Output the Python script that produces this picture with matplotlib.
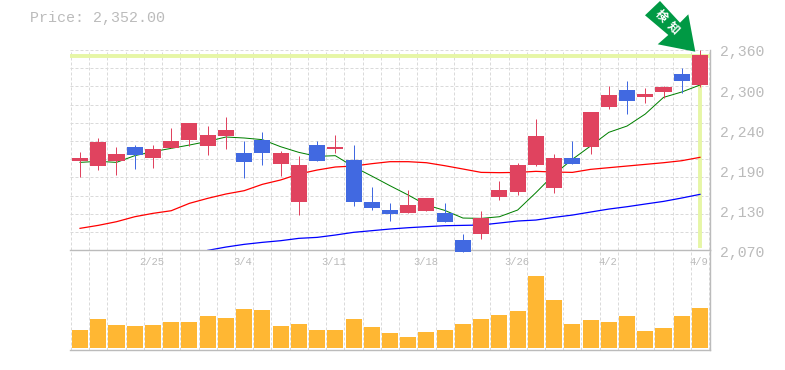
import matplotlib
matplotlib.use("Agg")
import numpy as np
import matplotlib.pyplot as plt
from matplotlib.patches import Polygon, Rectangle
from matplotlib.transforms import Affine2D

W, H = 785, 370

# daily candles
opens = [2199.3, 2192.0, 2199.3, 2219.5, 2203.6, 2218.1, 2229.7, 2221.0, 2235.5, 2210.8, 2229.7, 2194.9,
         2139.9, 2222.4, 2216.6, 2200.7, 2139.9, 2128.3, 2124.0, 2126.9, 2124.0, 2084.9, 2093.5, 2147.1,
         2154.4, 2193.5, 2160.2, 2203.6, 2219.5, 2277.5, 2302.1, 2291.9, 2299.2, 2325.2, 2309.3]
closes = [2203.6, 2226.8, 2209.4, 2208.0, 2216.6, 2228.2, 2254.3, 2236.9, 2244.2, 2197.8, 2210.8, 2210.8,
          2193.5, 2199.3, 2219.5, 2139.9, 2131.2, 2122.5, 2135.5, 2145.7, 2110.9, 2067.5, 2116.7, 2157.3,
          2193.5, 2235.5, 2203.6, 2194.9, 2270.2, 2294.8, 2286.1, 2296.3, 2306.4, 2315.1, 2352.8]
highs = [2212.3, 2232.6, 2219.5, 2222.4, 2222.4, 2247.0, 2254.3, 2250.0, 2263.0, 2228.2, 2241.3, 2213.7,
         2206.5, 2228.2, 2236.9, 2222.4, 2161.6, 2138.4, 2157.3, 2145.7, 2138.4, 2093.5, 2126.9, 2170.3,
         2196.4, 2260.1, 2209.4, 2228.2, 2270.2, 2307.9, 2315.1, 2305.0, 2307.9, 2334.0, 2360.0]
lows = [2176.1, 2186.2, 2179.0, 2187.7, 2189.1, 2218.1, 2221.0, 2208.0, 2216.6, 2174.6, 2193.5, 2177.5,
        2121.1, 2199.3, 2210.8, 2134.1, 2128.3, 2112.4, 2124.0, 2126.9, 2110.9, 2067.5, 2086.3, 2142.8,
        2150.0, 2192.0, 2153.0, 2194.9, 2209.4, 2274.6, 2267.3, 2283.2, 2290.5, 2297.7, 2306.4]

ma_short = [2197.3, 2198.8, 2197.3, 2207.0, 2212.8, 2217.6, 2222.4, 2227.7, 2234.0, 2232.6, 2230.2, 2220.0,
            2211.8, 2206.0, 2207.0, 2191.0, 2177.5, 2163.5, 2150.0, 2135.5, 2127.8, 2116.7, 2116.2, 2118.6,
            2128.3, 2153.4, 2180.0, 2201.7, 2221.0, 2240.8, 2249.9, 2267.3, 2291.4, 2299.2, 2309.3]
ma_mid = [2101.8, 2106.1, 2111.4, 2118.6, 2123.5, 2127.3, 2138.0, 2145.2, 2151.5, 2156.3, 2165.5, 2171.8,
          2180.4, 2186.2, 2190.6, 2192.0, 2195.4, 2198.3, 2198.3, 2196.8, 2192.5, 2187.7, 2182.8, 2182.4,
          2182.8, 2184.3, 2183.3, 2182.8, 2187.2, 2189.6, 2192.0, 2194.4, 2196.8, 2199.7, 2204.6]
ma_long = [2069.9, 2074.7, 2078.6, 2081.5, 2083.9, 2087.3, 2088.7, 2092.1, 2096.0, 2098.4, 2100.8, 2102.7,
           2104.2, 2105.6, 2106.1, 2106.6, 2109.5, 2112.4, 2113.8, 2117.7, 2121.0, 2125.4, 2129.7, 2133.1,
           2137.0, 2140.8, 2145.7, 2151.0]
ma_long_start = 7

volume = [54, 84, 69, 66, 69, 78, 78, 93, 87, 114, 111, 66, 72, 54, 54, 84, 63, 45,
          33, 48, 54, 72, 84, 96, 108, 213, 141, 72, 81, 78, 93, 51, 60, 93, 117]

price_ticks = [2360, 2302, 2244, 2186, 2128, 2070]
price_labels = ["2,360", "2,300", "2,240", "2,190", "2,130", "2,070"]
date_idx = [4, 9, 14, 19, 24, 29, 34]
date_labels = ["2/25", "3/4", "3/11", "3/18", "3/26", "4/2", "4/9"]
last_price = 2352

UP = "#e0435f"
DOWN = "#4169e1"
GRID = "#dadada"
FRAME = "#bbbbbb"
TEXT = "#bbbbbb"
HILITE = "#e6f6a6"
MONO = "Liberation Mono"
PX = 0.72  # one pixel in points


def box(top, bottom):
    return [70 / W, 1 - bottom / H, 640 / W, (bottom - top) / H]


fig = plt.figure(figsize=(W / 100, H / 100), dpi=100)
ax = fig.add_axes(box(50, 250.3))
vol = fig.add_axes(box(250.3, 350), sharex=ax)
# price panel on top so the last candles can run past its floor
ax.set_zorder(2)
vol.set_zorder(1)
ax.patch.set_visible(False)
vol.patch.set_visible(False)

x = np.arange(len(closes))
ax.set_xlim(-0.55, 34.55)
ax.set_ylim(2070, 2360)
vol.set_ylim(-6, 288)

grid_x = np.arange(-0.5, 35, 1)
for a in (ax, vol):
    a.vlines(grid_x, 0, 1, transform=a.get_xaxis_transform(), color=GRID, lw=PX,
             linestyles=(0, (3, 2)), zorder=0, clip_on=False)
    a.tick_params(left=False, bottom=False, labelleft=False, labelbottom=False)
    for s in ("top", "left"):
        a.spines[s].set_visible(False)
    for s in ("right", "bottom"):
        a.spines[s].set_color(FRAME)
        a.spines[s].set_linewidth(1.0)
ax.hlines(np.linspace(2070, 2360, 12)[1:], 0, 1, transform=ax.get_yaxis_transform(), color=GRID, lw=PX,
          linestyles=(0, (3, 2)), zorder=0)

# current price markers
ax.axhline(last_price, color=HILITE, lw=2.8, zorder=1)
ax.vlines(x[-1], 2073, last_price, color=HILITE, lw=2.8, zorder=1)

ax.plot(x, ma_short, color="#008000", lw=PX, zorder=2)
ax.plot(x, ma_mid, color="#ff0000", lw=0.9, zorder=2)
ax.plot(x[ma_long_start:], ma_long, color="#0000ff", lw=0.9, zorder=2)

for i in x:
    c = UP if closes[i] >= opens[i] else DOWN
    ax.vlines(i, lows[i], highs[i], color=c, lw=PX, zorder=3, clip_on=False)
    lo, hi = sorted((opens[i], closes[i]))
    ax.add_patch(Rectangle((i - 0.44, lo), 0.88, hi - lo, color=c, lw=0, zorder=4, clip_on=False))

vol.bar(x, volume, width=0.88, color="#ffb733", zorder=2)

for v, s in zip(price_ticks, price_labels):
    ax.annotate(s, xy=(1, v), xycoords=("axes fraction", "data"), xytext=(32, -2.5), textcoords="offset pixels",
                ha="center", va="center", family=MONO, fontsize=10.7, color=TEXT)
for i, s in zip(date_idx, date_labels):
    vol.annotate(s, xy=(i, 1), xycoords=("data", "axes fraction"), xytext=(-1, -12), textcoords="offset pixels",
                 ha="center", va="center", family=MONO, fontsize=7.6, color=TEXT)

fig.text(30 / W, 1 - 18 / H, "Price: 2,352.00", family=MONO, fontsize=10.8, color=TEXT, ha="left", va="center")

# arrow badge, pixel coordinates with y down
px = Affine2D().scale(1 / W, -1 / H).translate(0, 1) + fig.transFigure
arrow = [(660, 1), (645, 15.3), (668.3, 35), (657.7, 44.3), (695.3, 51.7), (688.3, 14.3), (680, 22.7)]
fig.add_artist(Polygon(arrow, closed=True, transform=px, facecolor="#009944", edgecolor="none", zorder=5))
for ch, cx, cy in (("検", 660.8, 16), ("知", 673.2, 27.5)):
    fig.text(cx / W, 1 - cy / H, ch, family=["Noto Sans CJK JP", "DejaVu Sans"], fontsize=8.5, weight="bold",
             color="white", rotation=-45, rotation_mode="anchor", ha="center", va="center", zorder=6)

fig.savefig("out.png", dpi=100)
